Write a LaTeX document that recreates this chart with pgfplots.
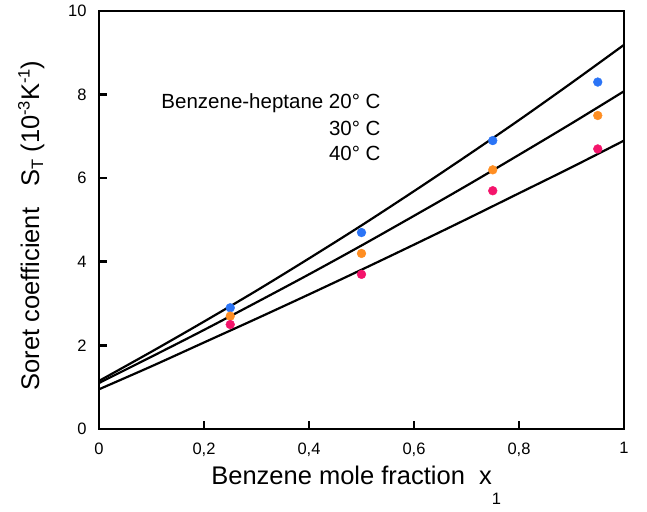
\documentclass[border=0pt]{standalone}
\usepackage{pgfplots}
\pgfplotsset{compat=1.18}
\usepackage{fontspec}
\setmainfont{Liberation Sans}
\definecolor{c20}{HTML}{2B74F6}
\definecolor{c30}{HTML}{FF8E22}
\definecolor{c40}{HTML}{F4146B}
\begin{document}
\begin{tikzpicture}
\begin{axis}[
scale only axis,
width=525pt, height=418pt,
xmin=0, xmax=1, ymin=0, ymax=10,
axis line style={line width=2.6pt},
tick pos=left,
tick align=inside,
major tick length=8pt,
every tick/.style={line width=2.6pt, black},
xtick={0,0.2,0.4,0.6,0.8,1},
xticklabels={0,{0,2},{0,4},{0,6},{0,8},1},
ytick={0,2,4,6,8,10},
yticklabels={0,2,4,6,8,10},
xticklabel style={font=\fontsize{16.5}{18}\selectfont, yshift=-10pt},
yticklabel style={font=\fontsize{16.5}{18}\selectfont, xshift=-9pt},
xlabel={Benzene mole fraction\ \ x\raisebox{-20pt}{\fontsize{16.5}{18}\selectfont 1}},
ylabel={Soret coefficient\ \ \ S\raisebox{-4pt}{\fontsize{16.5}{18}\selectfont T}\ (10\raisebox{9.5pt}{\fontsize{16.5}{18}\selectfont -3}K\raisebox{9.5pt}{\fontsize{16.5}{18}\selectfont -1})},
label style={font=\fontsize{25.5}{28}\selectfont},
xlabel style={at={(axis description cs:0.49,-0.132)}, anchor=base},
ylabel style={at={(axis description cs:-0.114,0.487)}, anchor=base, rotate=0},
clip=false,
]
% fitted curves
\addplot[black, line width=2.2pt, smooth] coordinates {(0,1.15) (0.1,1.85) (0.2,2.57) (0.3,3.31) (0.4,4.08) (0.5,4.87) (0.6,5.69) (0.7,6.53) (0.8,7.39) (0.9,8.28) (1,9.19)};
\addplot[black, line width=2.2pt, smooth] coordinates {(0,1.10) (0.1,1.73) (0.2,2.37) (0.3,3.03) (0.4,3.70) (0.5,4.39) (0.6,5.10) (0.7,5.82) (0.8,6.56) (0.9,7.31) (1,8.08)};
\addplot[black, line width=2.2pt, smooth] coordinates {(0,0.95) (0.1,1.50) (0.2,2.07) (0.3,2.64) (0.4,3.22) (0.5,3.81) (0.6,4.41) (0.7,5.02) (0.8,5.64) (0.9,6.26) (1,6.90)};
% measurements
\addplot[only marks, mark=*, mark size=4.4pt, c20, mark options={draw=c20, fill=c20}] coordinates {(0.25,2.9) (0.5,4.7) (0.75,6.9) (0.95,8.3)};
\addplot[only marks, mark=*, mark size=4.4pt, c30, mark options={draw=c30, fill=c30}] coordinates {(0.25,2.7) (0.5,4.2) (0.75,6.2) (0.95,7.5)};
\addplot[only marks, mark=*, mark size=4.4pt, c40, mark options={draw=c40, fill=c40}] coordinates {(0.25,2.5) (0.5,3.7) (0.75,5.7) (0.95,6.7)};
\node[anchor=east, font=\fontsize{20.5}{22}\selectfont] at (axis cs:0.543,7.8) {Benzene-heptane 20° C};
\node[anchor=east, font=\fontsize{20.5}{22}\selectfont] at (axis cs:0.543,7.2) {30° C};
\node[anchor=east, font=\fontsize{20.5}{22}\selectfont] at (axis cs:0.543,6.6) {40° C};
\end{axis}
\pgfresetboundingbox
\path ([shift={(-99pt,-82pt)}]current axis.south west) rectangle ([shift={(23pt,11pt)}]current axis.north east);
\end{tikzpicture}
\end{document}
